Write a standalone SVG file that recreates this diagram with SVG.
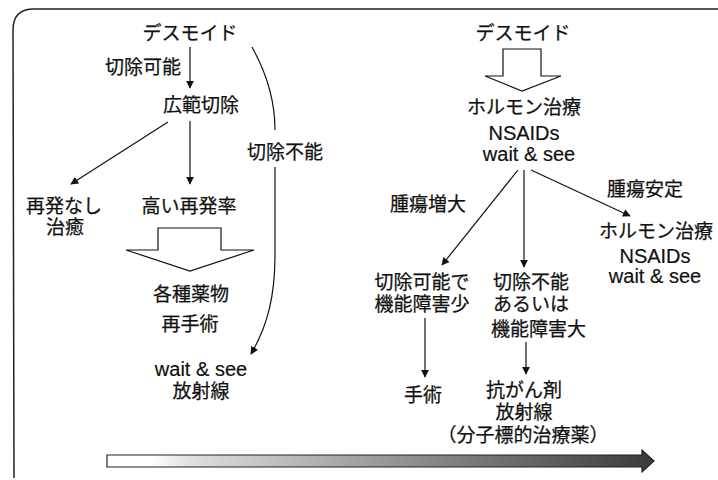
<svg xmlns="http://www.w3.org/2000/svg" width="718" height="480" viewBox="0 0 718 480">
<style>
.t{font-family:"Noto Sans CJK JP","Liberation Sans",sans-serif;font-size:19px;fill:#111;stroke:#111;stroke-width:0.25;text-anchor:middle}
.l{text-anchor:start}
.e{font-family:"Liberation Sans","Noto Sans CJK JP",sans-serif;font-size:20px;fill:#111;stroke:#111;stroke-width:0.2;text-anchor:middle}
.c{fill:none;stroke:#111;stroke-width:1.2}
.blk{fill:#fff;stroke:#111;stroke-width:1.2;stroke-linejoin:miter}
</style>
<defs>
<marker id="ah" viewBox="0 0 10 10" refX="9" refY="5" markerWidth="8" markerHeight="8" markerUnits="userSpaceOnUse" orient="auto">
<path d="M0,0 L10,5 L0,10 z" fill="#111"/>
</marker>
<linearGradient id="g" x1="0" y1="0" x2="1" y2="0">
<stop offset="0" stop-color="#fff"/>
<stop offset="0.08" stop-color="#fff"/>
<stop offset="0.16" stop-color="#ddd"/>
<stop offset="0.5" stop-color="#999"/>
<stop offset="1" stop-color="#3a3a3a"/>
</linearGradient>
</defs>
<rect width="718" height="480" fill="#fff"/>
<path d="M14 478 L13 30 Q13 9 34 9 L718 9" fill="none" stroke="#222" stroke-width="1.5"/>

<g id="connectors">
<line class="c" x1="190" y1="47" x2="190" y2="88" marker-end="url(#ah)"/>
<line class="c" x1="190" y1="121" x2="190" y2="184" marker-end="url(#ah)"/>
<line class="c" x1="168" y1="122" x2="71" y2="184" marker-end="url(#ah)"/>
<path class="c" d="M252 47 C266 72 275 100 275 130"/>
<path class="c" d="M275 167 L275 255 C275 295 268 325 251 354" marker-end="url(#ah)"/>
<line class="c" x1="518" y1="170" x2="442" y2="265" marker-end="url(#ah)"/>
<line class="c" x1="524" y1="170" x2="524" y2="267" marker-end="url(#ah)"/>
<line class="c" x1="531" y1="170" x2="630" y2="216" marker-end="url(#ah)"/>
<line class="c" x1="425" y1="318" x2="425" y2="377" marker-end="url(#ah)"/>
<line class="c" x1="526" y1="342" x2="526" y2="374" marker-end="url(#ah)"/>
<polygon class="blk" points="158,228 221,228 221,250 254,250 190,271 126,250 158,250"/>
<polygon class="blk" points="503,49 541,49 541,76 561,76 522,91 485,76 503,76"/>
<polygon points="107,455 642,455 642,450 654,461 642,472 642,467 107,467" fill="url(#g)" stroke="#222" stroke-width="1.2"/>
</g>

<g id="left-desmoid"><text class="t" x="190" y="40">デスモイド</text></g>
<g id="label-resectable"><text class="t" x="143" y="74">切除可能</text></g>
<g id="wide-resection"><text class="t" x="201" y="112">広範切除</text></g>
<g id="no-recurrence"><text class="t" x="64" y="213">再発なし</text><text class="t" x="65" y="234">治癒</text></g>
<g id="high-recurrence"><text class="t" x="189" y="213">高い再発率</text></g>
<g id="drugs"><text class="t" x="191" y="301">各種薬物</text><text class="t" x="190" y="331">再手術</text></g>
<g id="label-unresectable"><text class="t" x="285" y="159">切除不能</text></g>
<g id="left-wait"><text class="e" x="201" y="376">wait &amp; see</text><text class="t" x="201" y="398">放射線</text></g>

<g id="right-desmoid"><text class="t" x="523" y="40">デスモイド</text></g>
<g id="hormone"><text class="t" x="524" y="114">ホルモン治療</text><text class="e" x="524" y="140">NSAIDs</text><text class="e" x="529" y="161">wait &amp; see</text></g>
<g id="label-growth"><text class="t" x="428" y="211">腫瘍増大</text></g>
<g id="label-stable"><text class="t" x="645" y="196">腫瘍安定</text></g>
<g id="hormone-2"><text class="t" x="656" y="238">ホルモン治療</text><text class="e" x="655" y="263">NSAIDs</text><text class="e" x="655" y="283">wait &amp; see</text></g>
<g id="resectable-minor"><text class="t" x="422" y="289">切除可能で</text><text class="t" x="422" y="311">機能障害少</text></g>
<g id="unresectable-major"><text class="t l" x="493" y="289">切除不能</text><text class="t l" x="493" y="311">あるいは</text><text class="t l" x="491" y="336">機能障害大</text></g>
<g id="surgery"><text class="t" x="423" y="402">手術</text></g>
<g id="chemo"><text class="t" x="524" y="397">抗がん剤</text><text class="t" x="524" y="419">放射線</text><text class="t" x="523" y="442">（分子標的治療薬）</text></g>
</svg>
